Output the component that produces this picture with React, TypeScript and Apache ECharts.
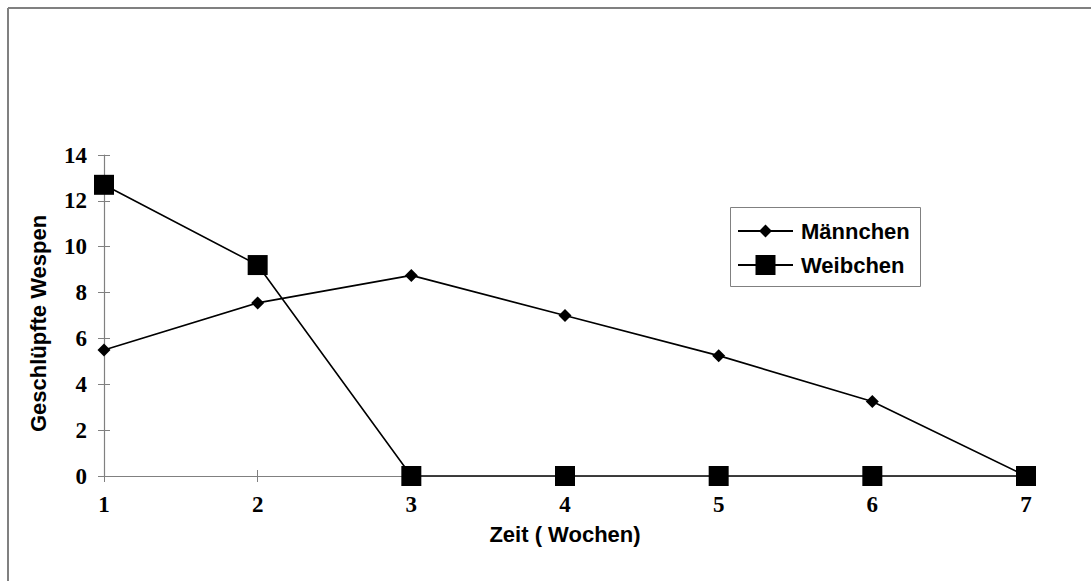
import React, { useEffect, useRef } from "react";
import * as echarts from "echarts";

const weeks = [1, 2, 3, 4, 5, 6, 7];
const maennchen = [5.5, 7.55, 8.75, 7.0, 5.25, 3.25, 0];
const weibchen = [12.7, 9.2, 0, 0, 0, 0, 0];
const yTicks = { min: 0, max: 14, interval: 2 };
const seriesNames = ["Männchen", "Weibchen"];
const xTitle = "Zeit ( Wochen)";
const yTitle = "Geschlüpfte Wespen";

const serif = '"Times New Roman", "Liberation Serif", serif';
const sans = 'Arial, "Liberation Sans", sans-serif';
const axisGray = "#808080";

export default function App() {
  const ref = useRef<HTMLDivElement>(null);
  useEffect(() => {
    if (!ref.current) return;
    const chart = echarts.init(ref.current, undefined, { renderer: "svg" });
    const grid = { left: 104, right: 65, top: 155, bottom: 105 };
    const option: any = {
      animation: false,
      backgroundColor: "#ffffff",
      grid,
      xAxis: [
        {
          type: "value",
          min: 1,
          max: 7,
          interval: 1,
          name: xTitle,
          nameLocation: "middle",
          nameGap: 47,
          nameTextStyle: { fontFamily: sans, fontWeight: "bold", fontSize: 22, color: "#000" },
          axisLine: { show: true, onZero: false, lineStyle: { color: axisGray, width: 1.2 } },
          axisTick: { show: true, length: 6, lineStyle: { color: axisGray } },
          axisLabel: { fontFamily: serif, fontWeight: "bold", fontSize: 23, color: "#000", margin: 17 },
          splitLine: { show: false },
        },
        {
          type: "value",
          min: 1,
          max: 7,
          interval: 1,
          position: "bottom",
          axisLine: { show: false },
          axisTick: { show: true, inside: true, length: 6, lineStyle: { color: axisGray } },
          axisLabel: { show: false },
          splitLine: { show: false },
        },
      ],
      yAxis: [
        {
          type: "value",
          min: yTicks.min,
          max: yTicks.max,
          interval: yTicks.interval,
          name: yTitle,
          nameLocation: "middle",
          nameGap: 55,
          nameTextStyle: { fontFamily: sans, fontWeight: "bold", fontSize: 22, color: "#000", padding: [0, 16, 0, 0] },
          axisLine: { show: true, onZero: false, lineStyle: { color: axisGray, width: 1.2 } },
          axisTick: { show: true, length: 6, lineStyle: { color: axisGray } },
          axisLabel: { fontFamily: serif, fontWeight: "bold", fontSize: 23, color: "#000", margin: 17 },
          splitLine: { show: false },
        },
        {
          type: "value",
          min: yTicks.min,
          max: yTicks.max,
          interval: yTicks.interval,
          position: "left",
          axisLine: { show: false },
          axisTick: { show: true, inside: true, length: 6, lineStyle: { color: axisGray } },
          axisLabel: { show: false },
          splitLine: { show: false },
        },
      ],
      legend: [
        {
          data: [seriesNames[0]],
          left: 737,
          top: 220,
          padding: 0,
          itemWidth: 55,
          itemHeight: 16,
          textStyle: { fontFamily: sans, fontWeight: "bold", fontSize: 22, color: "#000", padding: [0, 0, 0, 3] },
        },
        {
          data: [seriesNames[1]],
          left: 737,
          top: 254,
          padding: 0,
          itemWidth: 55,
          itemHeight: 25,
          textStyle: { fontFamily: sans, fontWeight: "bold", fontSize: 22, color: "#000", padding: [0, 0, 0, 3] },
        },
      ],
      series: [
        {
          name: seriesNames[0],
          type: "line",
          data: weeks.map((w, i) => [w, maennchen[i]]),
          symbol: "diamond",
          symbolSize: 13,
          lineStyle: { color: "#000", width: 1.6 },
          itemStyle: { color: "#000" },
          z: 3,
        },
        {
          name: seriesNames[1],
          type: "line",
          data: weeks.map((w, i) => [w, weibchen[i]]),
          symbol: "rect",
          symbolSize: 20,
          lineStyle: { color: "#000", width: 1.6 },
          itemStyle: { color: "#000" },
          z: 4,
        },
      ],
      graphic: [
        {
          type: "line",
          shape: { x1: 8, y1: 8, x2: 1091, y2: 8 },
          style: { stroke: axisGray, lineWidth: 2 },
          silent: true,
        },
        {
          type: "line",
          shape: { x1: 8, y1: 8, x2: 8, y2: 581 },
          style: { stroke: axisGray, lineWidth: 2 },
          silent: true,
        },
        {
          type: "rect",
          shape: { x: 730.5, y: 207.5, width: 190, height: 79 },
          style: { fill: "none", stroke: axisGray, lineWidth: 1 },
          silent: true,
          z: -1,
        },
      ],
    };
    chart.setOption(option);
    return () => chart.dispose();
  }, []);
  return (
    <div
      ref={ref}
      style={{ position: "fixed", left: 0, top: 0, width: 1091, height: 581 }}
    />
  );
}
